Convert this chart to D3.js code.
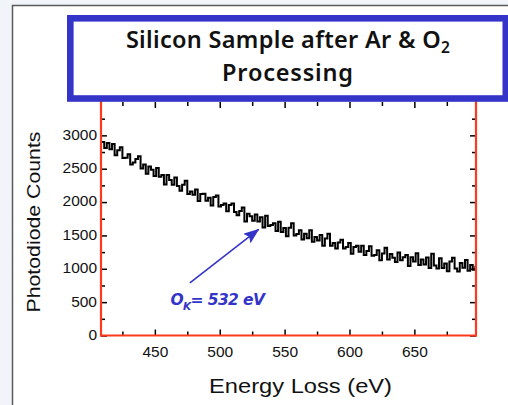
<!DOCTYPE html>
<html><head><meta charset="utf-8">
<script src="https://cdn.jsdelivr.net/npm/d3@7"></script>
<style>html,body{margin:0;padding:0;background:#f1f5fa;overflow:hidden}</style>
</head><body><svg id="c" width="508" height="405"></svg>
<script>
// ---- data ----
const energyStart = 409;
const energyStep = 2;
const counts = [
  2900,2810,2885,2790,2870,2700,2775,2820,2660,2665,
  2715,2565,2595,2645,2685,2505,2565,2425,2535,2485,
  2390,2510,2380,2405,2265,2405,2330,2260,2370,2240,
  2170,2260,2320,2120,2160,2110,2190,2015,2120,2125,
  2020,2065,1950,2075,2100,1935,1955,1980,1862,1955,
  1978,1850,1802,1865,1918,1710,1825,1788,1720,1815,
  1708,1772,1618,1794,1640,1656,1682,1568,1705,1552,
  1610,1487,1615,1682,1500,1520,1579,1438,1527,1457,
  1576,1406,1475,1425,1505,1345,1455,1525,1345,1385,
  1305,1395,1435,1305,1325,1385,1225,1325,1345,1255,
  1345,1205,1266,1336,1197,1208,1278,1129,1230,1314,
  1138,1222,1166,1100,1244,1128,1172,1206,1040,1174,
  1108,1232,1056,1140,1064,1168,1012,1226,1050,1004,
  1158,1012,1078,964,1110,1167,1004,961,1088,1015,
  1132,970,1058,986,1044
];
const energies = counts.map((_, i) => energyStart + i * energyStep);
const xDomain = [408.5, 697.5];
const yDomain = [0, 3500];
const xMajorTicks = [450, 500, 550, 600, 650];
const xMinorTicks = [425, 475, 525, 575, 625, 675];
const yMajorTicks = [0, 500, 1000, 1500, 2000, 2500, 3000];
const yMinorTicks = [250, 750, 1250, 1750, 2250, 2750, 3250];
const titleLine1 = "Silicon Sample after Ar & O";
const titleSub = "2";
const titleLine2 = "Processing";
const xLabel = "Energy Loss (eV)";
const yLabel = "Photodiode Counts";
const arrowTail = [477, 790];
const arrowTip = [530, 1590];
const noteAt = [462, 455];
const noteMain = "O";
const noteSub = "K";
const noteRest = "= 532 eV";

// ---- drawing ----
const svg = d3.select("#c");
const L = 101, R = 476, T = 102, B = 335.5;
const x = d3.scaleLinear().domain(xDomain).range([L, R]);
const y = d3.scaleLinear().domain(yDomain).range([B, T]);
const red = "#ff3a1c", blue = "#3434c8";

// panel
svg.append("rect").attr("x", 12.5).attr("y", 5.5).attr("width", 520).attr("height", 420)
  .attr("fill", "#fff").attr("stroke", "#5a5a5a").attr("stroke-width", 1.5);

function styleAxis(g) {
  g.select(".domain").remove();
  g.selectAll(".tick line").attr("stroke", "#000").attr("stroke-width", 1.5);
  g.selectAll(".tick text").attr("font-family", "Liberation Sans, Arial, sans-serif")
    .attr("font-size", 15.5).attr("fill", "#111");
}
// bottom
svg.append("g").attr("transform", `translate(0,${B})`)
  .call(d3.axisBottom(x).tickValues(xMajorTicks).tickSize(-6).tickPadding(10).tickFormat(d3.format("d")))
  .call(styleAxis);
svg.append("g").attr("transform", `translate(0,${B})`)
  .call(d3.axisBottom(x).tickValues(xMinorTicks).tickSize(-4).tickFormat(""))
  .call(styleAxis);
// top
svg.append("g").attr("transform", `translate(0,${T})`)
  .call(d3.axisTop(x).tickValues(xMajorTicks).tickSize(-6).tickFormat(""))
  .call(styleAxis);
svg.append("g").attr("transform", `translate(0,${T})`)
  .call(d3.axisTop(x).tickValues(xMinorTicks).tickSize(-4).tickFormat(""))
  .call(styleAxis);
// left
svg.append("g").attr("transform", `translate(${L},0)`)
  .call(d3.axisLeft(y).tickValues(yMajorTicks).tickSize(-6).tickPadding(4).tickFormat(d3.format("d")))
  .call(styleAxis)
  .call(g => g.selectAll(".tick text").attr("dy", "0.25em"));
svg.append("g").attr("transform", `translate(${L},0)`)
  .call(d3.axisLeft(y).tickValues(yMinorTicks).tickSize(-4).tickFormat(""))
  .call(styleAxis);
// right
svg.append("g").attr("transform", `translate(${R},0)`)
  .call(d3.axisRight(y).tickValues(yMajorTicks).tickSize(-6).tickFormat(""))
  .call(styleAxis);
svg.append("g").attr("transform", `translate(${R},0)`)
  .call(d3.axisRight(y).tickValues(yMinorTicks).tickSize(-4).tickFormat(""))
  .call(styleAxis);

// data line
const line = d3.line().x((d, i) => x(energies[i])).y(d => y(d)).curve(d3.curveStepAfter);
svg.append("path").datum(counts).attr("d", line)
  .attr("fill", "none").attr("stroke", "#000").attr("stroke-width", 2);

// red frame
svg.append("line").attr("x1", L).attr("x2", L).attr("y1", T - 2).attr("y2", B + 1)
  .attr("stroke", red).attr("stroke-width", 2.2);
svg.append("line").attr("x1", R).attr("x2", R).attr("y1", T - 2).attr("y2", B + 1)
  .attr("stroke", red).attr("stroke-width", 2.2);
svg.append("line").attr("x1", L - 1).attr("x2", R + 1).attr("y1", B).attr("y2", B)
  .attr("stroke", red).attr("stroke-width", 2.2);

// axis titles
svg.append("text").attr("x", (L + R) / 2 + 12).attr("y", 393)
  .attr("text-anchor", "middle").attr("font-family", "Liberation Sans, Arial, sans-serif")
  .attr("font-size", 20.5).attr("fill", "#111")
  .attr("textLength", 183).attr("lengthAdjust", "spacingAndGlyphs").text(xLabel);
svg.append("text").attr("transform", `translate(39.5,${222}) rotate(-90)`)
  .attr("text-anchor", "middle").attr("font-family", "Liberation Sans, Arial, sans-serif")
  .attr("font-size", 18).attr("fill", "#111")
  .attr("textLength", 181).attr("lengthAdjust", "spacingAndGlyphs").text(yLabel);

// annotation arrow
const defs = svg.append("defs");
defs.append("marker").attr("id", "ah").attr("markerUnits", "userSpaceOnUse")
  .attr("viewBox", "0 0 16 12").attr("refX", 15).attr("refY", 6)
  .attr("markerWidth", 16).attr("markerHeight", 12).attr("orient", "auto")
  .append("path").attr("d", "M0,0 L16,6 L0,12 L3,6 Z").attr("fill", blue);
svg.append("line").attr("x1", x(arrowTail[0])).attr("y1", y(arrowTail[1]))
  .attr("x2", x(arrowTip[0])).attr("y2", y(arrowTip[1]))
  .attr("stroke", blue).attr("stroke-width", 1.6).attr("marker-end", "url(#ah)");
const note = svg.append("text").attr("x", x(noteAt[0])).attr("y", y(noteAt[1]))
  .attr("font-family", "DejaVu Sans, sans-serif").attr("font-style", "italic").attr("font-weight", "bold")
  .attr("font-size", 15.5).attr("fill", blue).attr("letter-spacing", -0.6);
note.append("tspan").text(noteMain);
note.append("tspan").attr("dy", 4.5).attr("font-size", 10.5).text(noteSub);
note.append("tspan").attr("dy", -4.5).text(noteRest);

// title box
svg.append("rect").attr("x", 70.3).attr("y", 18.3).attr("width", 435.5).attr("height", 80.2)
  .attr("fill", "#fff").attr("stroke", blue).attr("stroke-width", 6.6);
const t1 = svg.append("text").attr("x", 288).attr("y", 47.5).attr("text-anchor", "middle")
  .attr("font-family", "Noto Sans, DejaVu Sans, sans-serif").attr("font-weight", 600)
  .attr("font-size", 23.5).attr("fill", "#111")
  .attr("letter-spacing", 0.3);
t1.append("tspan").text(titleLine1);
t1.append("tspan").attr("dy", 5).attr("font-size", 15.5).text(titleSub);
svg.append("text").attr("x", 288).attr("y", 80.5).attr("text-anchor", "middle")
  .attr("font-family", "Noto Sans, DejaVu Sans, sans-serif").attr("font-weight", 600)
  .attr("font-size", 23.5).attr("fill", "#111")
  .attr("letter-spacing", 0.8).text(titleLine2);
</script></body></html>
